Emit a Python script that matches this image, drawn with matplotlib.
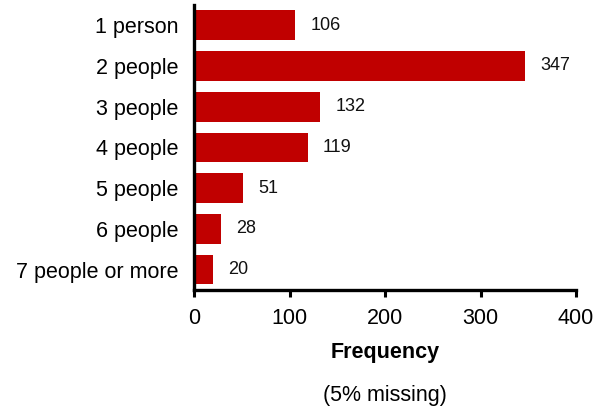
import matplotlib
matplotlib.use("Agg")
import matplotlib.pyplot as plt
import numpy as np

plt.rcParams['font.family'] = ['Liberation Sans', 'DejaVu Sans']

# household size data
labels = ['1 person', '2 people', '3 people', '4 people', '5 people',
          '6 people', '7 people or more']
counts = [106, 347, 132, 119, 51, 28, 20]
xticks = [0, 100, 200, 300, 400]

fig = plt.figure(figsize=(5.97, 4.09), dpi=100)
ax = fig.add_axes([0.325, 0.291, 0.64, 0.697])

y = np.arange(len(labels))
ax.barh(y, counts, height=0.73, color='#C00000')
for yi, c in zip(y, counts):
    ax.annotate(str(c), (c, yi), xytext=(11, 0), textcoords='offset points',
                va='center', ha='left', fontsize=13, color='#111111')

ax.set_ylim(len(labels) - 0.5, -0.5)
ax.set_xlim(0, 400)
ax.set_yticks(y)
ax.set_yticklabels(labels, fontsize=15.5)
ax.set_xticks(xticks)
ax.set_xticklabels([str(t) for t in xticks], fontsize=15.5)
ax.tick_params(axis='y', length=0, pad=11)
ax.tick_params(axis='x', length=5, width=2.2, pad=8)

for s in ['top', 'right']:
    ax.spines[s].set_visible(False)
ax.spines['left'].set_linewidth(2.4)
ax.spines['bottom'].set_linewidth(2.4)

ax.set_xlabel('Frequency', fontsize=15.5, fontweight='bold', labelpad=9)
fig.text(0.645, 0.033, '(5% missing)', ha='center', va='center', fontsize=15.5)

fig.savefig('out.png', dpi=100)
